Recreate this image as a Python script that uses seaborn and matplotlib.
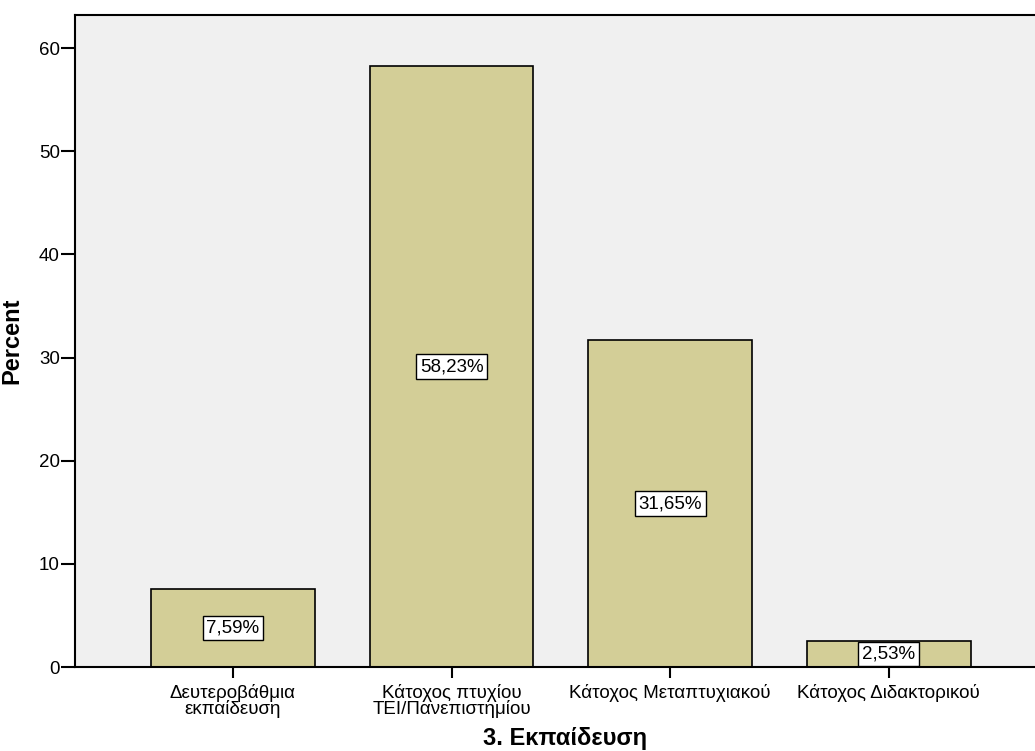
import matplotlib
matplotlib.use("Agg")
import matplotlib.pyplot as plt
import seaborn as sns
import pandas as pd

categories = [
    "Δευτεροβάθμια\nεκπαίδευση",
    "Κάτοχος πτυχίου\nΤΕΙ/Πανεπιστημίου",
    "Κάτοχος Μεταπτυχιακού",
    "Κάτοχος Διδακτορικού",
]
percents = [7.59, 58.23, 31.65, 2.53]
y_ticks = [0, 10, 20, 30, 40, 50, 60]

sns.set_style("white")
plt.rcParams["font.family"] = ["Liberation Sans", "DejaVu Sans"]
plt.rcParams["text.color"] = "black"
plt.rcParams["axes.labelcolor"] = "black"
plt.rcParams["xtick.color"] = "black"
plt.rcParams["ytick.color"] = "black"

df = pd.DataFrame({"category": categories, "percent": percents})

fig = plt.figure(figsize=(10.35, 7.51), dpi=100)
ax = fig.add_axes([75 / 1035, 84 / 751, 960 / 1035, 652 / 751])
ax.set_facecolor("#F0F0F0")

sns.barplot(data=df, x="category", y="percent", color="#D3CE97",
            width=0.75, edgecolor="black", linewidth=1.2, saturation=1,
            ax=ax, zorder=2)

for i, v in enumerate(percents):
    ax.text(i, v / 2, f"{v:.2f}%".replace(".", ","), ha="center", va="center",
            fontsize=13.5, color="black", zorder=3,
            bbox=dict(boxstyle="square,pad=0.2", fc="white", ec="black", lw=1.0))

ax.set_xlim(-0.723, 3.67)
ax.set_ylim(0, 63.2)
ax.set_yticks(y_ticks)
ax.set_yticklabels([str(t) for t in y_ticks], fontsize=13.5)
ax.tick_params(axis="y", direction="out", length=10, width=1.5, pad=1, left=True)
ax.tick_params(axis="x", direction="out", length=8, width=1.5, pad=4, bottom=True,
               labelsize=13.5)
for lbl in ax.get_xticklabels():
    lbl.set_linespacing(0.9)

for side in ["left", "top", "bottom"]:
    ax.spines[side].set_visible(True)
    ax.spines[side].set_color("black")
    ax.spines[side].set_linewidth(1.5)
ax.spines["right"].set_visible(False)

ax.set_ylabel("Percent", fontsize=17, fontweight="bold")
ax.set_xlabel("3. Εκπαίδευση", fontsize=17, fontweight="bold")
ax.xaxis.set_label_coords(0.511, -0.092)
ax.yaxis.set_label_coords(-0.054, 0.5)

fig.savefig("out.png", dpi=100)
